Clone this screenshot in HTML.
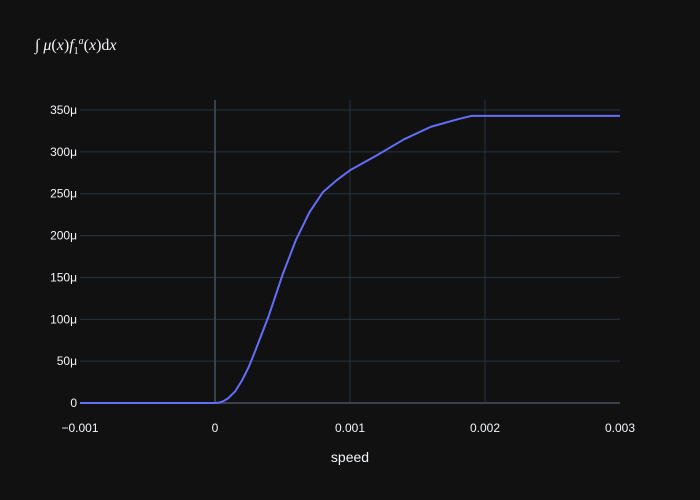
<!DOCTYPE html>
<html><head><meta charset="utf-8"><style>
body{margin:0;background:#111111;}
svg{display:block;font-family:"Liberation Sans",sans-serif;}
</style></head><body>
<svg id="chart" width="700" height="500">
<rect width="700" height="500" fill="#111111"/>
<text x="35" y="50" fill="#f2f5fa" font-family="Liberation Serif,serif" font-size="16">∫ <tspan font-style="italic">μ</tspan>(<tspan font-style="italic">x</tspan>)<tspan font-style="italic">f</tspan><tspan font-size="10" dy="4">1</tspan><tspan font-size="10" font-style="italic" dy="-10">a</tspan><tspan dy="6">(</tspan><tspan font-style="italic">x</tspan>)d<tspan font-style="italic">x</tspan></text>
<g id="grid"></g><g id="zero"></g><g id="ticks"></g><g id="series"></g>
<text x="350" y="462" fill="#f2f5fa" font-size="14" text-anchor="middle">speed</text>
</svg>
<script>
const xVals=[-0.001,0,0.00003,0.00006,0.0001,0.00015,0.0002,0.00025,0.0003,0.0004,0.0005,0.0006,0.0007,0.0008,0.0009,0.001,0.0012,0.0014,0.0016,0.0018,0.0019,0.002,0.003];
const yVals=[0,0,0.5,2,6,14,27,43,63,105,153,195,228,252,266,278,296,315,330,339,343,343,343];
const xTicks=[-0.001,0,0.001,0.002,0.003];
const xTickLabels=["−0.001","0","0.001","0.002","0.003"];
const yTicks=[0,50,100,150,200,250,300,350];
const yTickLabels=["0","50μ","100μ","150μ","200μ","250μ","300μ","350μ"];
const NS="http://www.w3.org/2000/svg";
const X=v=>80+(v+0.001)/0.004*540;
const Y=v=>403-v/350*293;
function mk(t,a,p){const e=document.createElementNS(NS,t);for(const k in a)e.setAttribute(k,a[k]);p.appendChild(e);return e;}
const g=document.getElementById('grid'),z=document.getElementById('zero'),tk=document.getElementById('ticks'),s=document.getElementById('series');
yTicks.forEach((v,i)=>{
 const l=mk('line',{x1:80,x2:620,y1:Y(v),y2:Y(v),stroke:v===0?'#3a414b':'#283442','stroke-width':v===0?2:1},v===0?z:g);
 
 
 const t=mk('text',{x:77,y:Y(v)+4,fill:'#f2f5fa','font-size':12,'text-anchor':'end'},tk);t.textContent=yTickLabels[i];
 
 
});
xTicks.forEach((v,i)=>{
 if(v!==-0.001&&v!==0.003){const l=mk('line',{x1:X(v),x2:X(v),y1:100,y2:403,stroke:v===0?'#3a414b':'#283442','stroke-width':v===0?2:1},v===0?z:g);
 
 }
 const t=mk('text',{x:X(v),y:432,fill:'#f2f5fa','font-size':12,'text-anchor':'middle'},tk);t.textContent=xTickLabels[i];
 
 
});
const p=mk('polyline',{points:xVals.map((x,i)=>X(x)+','+Y(yVals[i])).join(' '),fill:'none',stroke:'#636efa','stroke-width':2,'stroke-linejoin':'round'},s);


</script>
</body></html>
